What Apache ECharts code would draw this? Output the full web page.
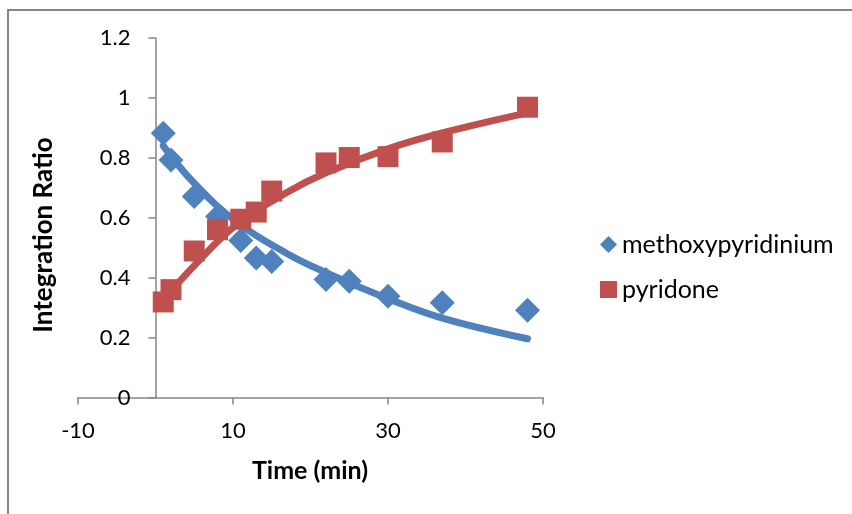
<!DOCTYPE html>
<html>
<head>
<meta charset="utf-8">
<script src="https://cdn.jsdelivr.net/npm/echarts@6/dist/echarts.min.js"></script>
<style>
html,body{margin:0;padding:0;background:#fff;}
#chart{width:852px;height:514px;}
</style>
</head>
<body>
<div id="chart"></div>
<script>
// Measured data
var times = [1, 2, 5, 8, 11, 13, 15, 22, 25, 30, 37, 48];
var methoxypyridinium = [0.882, 0.793, 0.671, 0.604, 0.524, 0.466, 0.454, 0.394, 0.388, 0.338, 0.316, 0.291];
var pyridone = [0.319, 0.360, 0.489, 0.560, 0.595, 0.619, 0.689, 0.783, 0.801, 0.804, 0.853, 0.969];

// Trendline points
var fitTimes = [1, 5, 10.5, 17, 22, 30, 37, 48];
var methoxyFit = [0.84, 0.715, 0.585, 0.48, 0.417, 0.33, 0.265, 0.196];
var pyridoneFit = [0.325, 0.44, 0.578, 0.685, 0.75, 0.83, 0.883, 0.95];

// Axis settings
var xTicks = {min: -10, max: 50, interval: 20};
var yTicks = {min: 0, max: 1.2, interval: 0.2};

var seriesNames = ['methoxypyridinium', 'pyridone'];
var xTitle = 'Time (min)';
var yTitle = 'Integration Ratio';

function pairs(xs, ys) { return xs.map(function (x, i) { return [x, ys[i]]; }); }

var FONT = 'Lato';
var AX = '#868686';
var BLUE = '#4F81BD', RED = '#C0504D';

var chart = echarts.init(document.getElementById('chart'), null, {renderer: 'canvas'});
chart.setOption({
  animation: false,
  backgroundColor: '#fff',
  grid: {left: 78, right: 309, top: 38, bottom: 116.5, containLabel: false},
  xAxis: {
    type: 'value', min: xTicks.min, max: xTicks.max, interval: xTicks.interval,
    axisLine: {onZero: false, lineStyle: {color: AX, width: 1.5}},
    axisTick: {show: true, length: 7, lineStyle: {color: AX, width: 1.5}},
    axisLabel: {margin: 22, color: '#000', fontFamily: FONT, fontSize: 22},
    splitLine: {show: false}
  },
  yAxis: {
    type: 'value', min: yTicks.min, max: yTicks.max, interval: yTicks.interval,
    offset: -77.5,
    axisLine: {show: true, onZero: false, lineStyle: {color: AX, width: 1.5}},
    axisTick: {show: true, length: 7, lineStyle: {color: AX, width: 1.5}},
    axisLabel: {margin: 25, color: '#000', fontFamily: FONT, fontSize: 22},
    splitLine: {show: false}
  },
  legend: {
    orient: 'vertical', left: 595, top: 227,
    itemWidth: 17, itemHeight: 17, itemGap: 20,
    textStyle: {fontFamily: FONT, fontSize: 25, lineHeight: 24, color: '#000'},
    data: [{name: seriesNames[0], icon: 'diamond'}, {name: seriesNames[1], icon: 'rect'}]
  },
  graphic: [
    {type: 'rect', silent: true, shape: {x: 8, y: 10, width: 1000, height: 1000},
     style: {fill: 'none', stroke: AX, lineWidth: 2}},
    {type: 'text', silent: true, x: 44, y: 235, rotation: Math.PI / 2,
     style: {text: yTitle, font: 'bold 26px ' + FONT, fill: '#000', align: 'center', verticalAlign: 'middle'}},
    {type: 'text', silent: true, x: 310, y: 471,
     style: {text: xTitle, font: 'bold 25px ' + FONT, fill: '#000', align: 'center', verticalAlign: 'middle'}}
  ],
  series: [
    {name: 'fit1', type: 'line', data: pairs(fitTimes, methoxyFit), smooth: 0.4, showSymbol: false, symbol: 'none',
     lineStyle: {color: BLUE, width: 7, cap: 'round'}, z: 2, silent: true},
    {name: 'fit2', type: 'line', data: pairs(fitTimes, pyridoneFit), smooth: 0.4, showSymbol: false, symbol: 'none',
     lineStyle: {color: RED, width: 7, cap: 'round'}, z: 2, silent: true},
    {name: seriesNames[0], type: 'scatter', data: pairs(times, methoxypyridinium), symbol: 'diamond', symbolSize: 25,
     itemStyle: {color: BLUE, opacity: 1}, z: 3},
    {name: seriesNames[1], type: 'scatter', data: pairs(times, pyridone), symbol: 'rect', symbolSize: 21,
     itemStyle: {color: RED, opacity: 1}, z: 3}
  ]
});
</script>
</body>
</html>
